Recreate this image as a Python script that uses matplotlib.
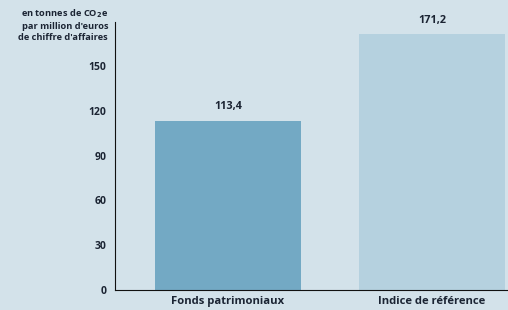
import matplotlib.pyplot as plt

categories = ["Fonds patrimoniaux", "Indice de référence"]
values = [113.4, 171.2]
value_labels = ["113,4", "171,2"]
yticks = [0, 30, 60, 90, 120, 150]

bg = "#d3e2ea"
bar_colors = ["#73a9c4", "#b5d1df"]
txt = "#1b2433"

plt.rcParams['font.family'] = ['Open Sans', 'DejaVu Sans']

fig = plt.figure(figsize=(5.08, 3.10), dpi=100, facecolor=bg)
ax = fig.add_axes([115 / 508, 20 / 310, 393 / 508, 268 / 310], facecolor=bg)

x = range(len(categories))
ax.bar(x, values, width=0.716, color=bar_colors, zorder=2)
for xi, v, lab in zip(x, values, value_labels):
    ax.text(xi, v + 5.5, lab, ha='center', va='bottom', fontsize=7.8,
            fontweight='bold', color=txt)

ax.set_xlim(-0.554, 1.373)
ax.set_ylim(0, 179.5)
ax.set_yticks(yticks)
ax.set_yticklabels([str(t) for t in yticks])
ax.set_xticks(list(x))
ax.set_xticklabels(categories)

ax.tick_params(axis='y', length=0, pad=6, labelsize=7.5, labelcolor=txt)
ax.tick_params(axis='x', length=0, pad=4, labelsize=8.1, labelcolor=txt)
for lab in ax.get_xticklabels() + ax.get_yticklabels():
    lab.set_fontweight('bold')

for s in ['top', 'right']:
    ax.spines[s].set_visible(False)
ax.spines['left'].set_color('#111111')
ax.spines['bottom'].set_color('#111111')

fig.text(108 / 508, 1 - 7.5 / 310,
         "en tonnes de CO$_\\mathbf{2}$e\npar million d'euros\nde chiffre d'affaires",
         ha='right', va='top', fontsize=6.7, fontweight='bold', color=txt,
         linespacing=1.32)

fig.savefig("out.png", dpi=100, facecolor=bg)
